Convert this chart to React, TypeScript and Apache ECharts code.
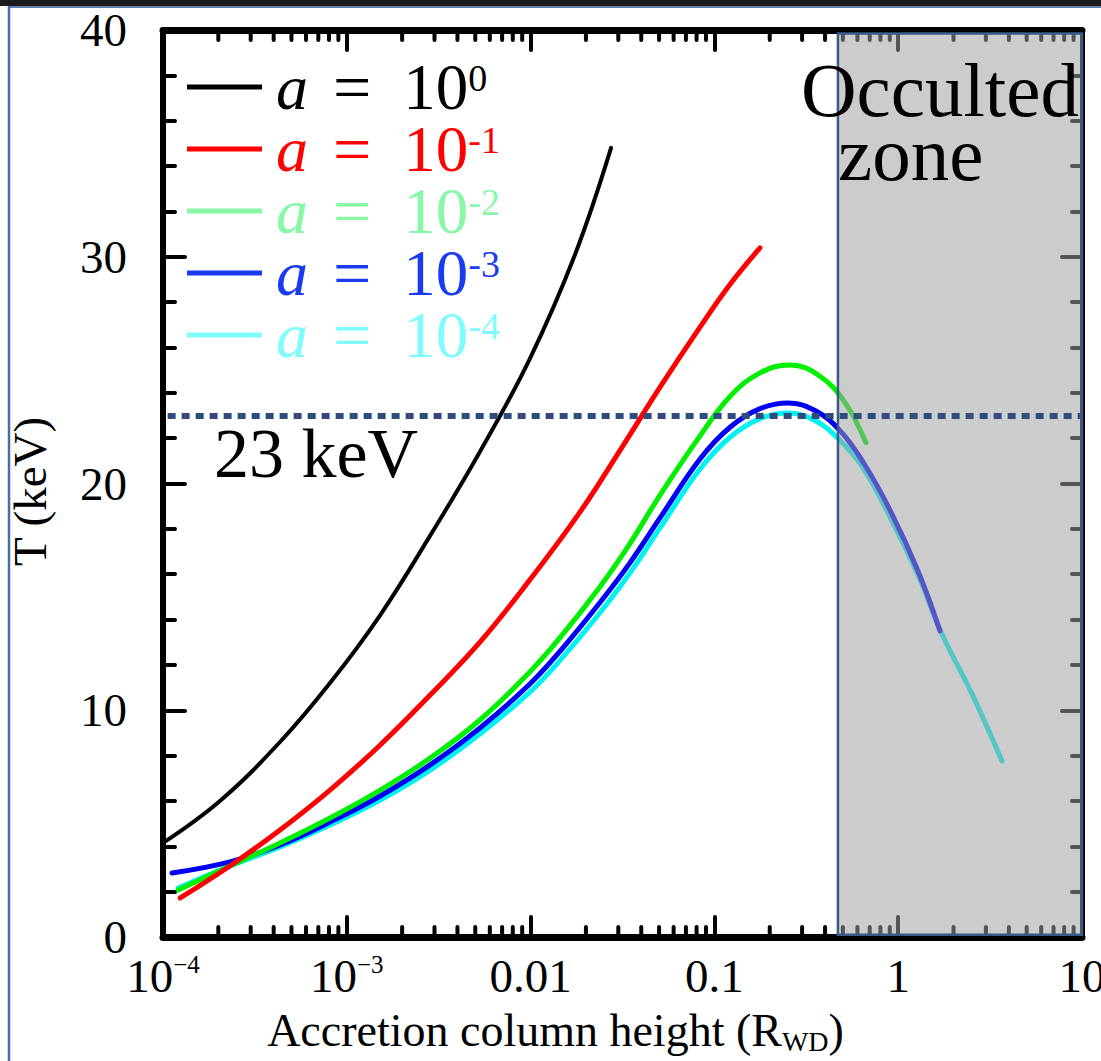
import React, { useEffect, useRef } from 'react';
import * as echarts from 'echarts';

const SERIF = "'Liberation Serif', 'Times New Roman', serif";

// Accretion column height (R_WD) and shock temperature (keV) along each curve
const heightA0 = [1e-4, 2.04e-4, 4.33e-4, 8.1e-4, 1.52e-3, 2.84e-3, 5.3e-3, 9.9e-3, 0.01745, 0.0274];
const tempA0 = [4.15, 6.0, 8.6, 11.2, 14.2, 17.7, 21.4, 25.5, 30.1, 34.8];

const heightA1 = [1.24e-4, 2.31e-4, 4.33e-4, 8.1e-4, 1.52e-3, 2.84e-3, 5.3e-3, 9.9e-3, 0.0186, 0.0306, 0.0506, 0.0835, 0.1235, 0.177];
const tempA1 = [1.72, 3.13, 4.72, 6.48, 8.47, 10.67, 13.0, 15.75, 18.75, 21.45, 24.25, 26.9, 28.85, 30.39];

const heightA2 = [1.21e-4, 2.31e-4, 4.33e-4, 8.1e-4, 1.52e-3, 2.84e-3, 5.3e-3, 9.9e-3, 0.01445, 0.02385, 0.0347, 0.0506, 0.0835, 0.1216, 0.1771, 0.2578, 0.3754, 0.5136, 0.668];
const tempA2 = [2.07, 3.13, 4.15, 5.25, 6.48, 7.89, 9.57, 11.69, 13.2, 15.45, 17.35, 19.49, 22.1, 23.84, 24.88, 25.23, 24.73, 23.57, 21.8];

const heightA3 = [1.12e-4, 2.31e-4, 4.33e-4, 8.1e-4, 1.52e-3, 2.84e-3, 5.3e-3, 9.9e-3, 0.01445, 0.02385, 0.0347, 0.0506, 0.0835, 0.1216, 0.1771, 0.2515, 0.3526, 0.4825, 0.6436, 0.9024, 1.281, 1.688];
const tempA3 = [2.82, 3.31, 4.06, 5.07, 6.22, 7.59, 9.22, 11.16, 12.6, 14.75, 16.5, 18.48, 21.08, 22.48, 23.3, 23.55, 23.22, 22.33, 20.95, 18.83, 16.14, 13.5];

const heightA4 = [1.21e-4, 2.31e-4, 4.33e-4, 8.1e-4, 1.52e-3, 2.84e-3, 5.3e-3, 9.9e-3, 0.01445, 0.02385, 0.0347, 0.0506, 0.0835, 0.1216, 0.1771, 0.2515, 0.3526, 0.4825, 0.6436, 0.9024, 1.281, 1.71, 2.52, 3.67];
const tempA4 = [2.16, 3.13, 3.97, 4.94, 6.04, 7.36, 8.95, 10.8, 12.2, 14.3, 16.05, 18.04, 20.64, 22.04, 22.86, 23.11, 22.78, 21.9, 20.7, 18.52, 15.96, 13.45, 10.72, 7.76];

const curveHeights = [heightA0, heightA1, heightA2, heightA3, heightA4];
const curveTemps = [tempA0, tempA1, tempA2, tempA3, tempA4];

const seriesNames = ['a = 10^0', 'a = 10^-1', 'a = 10^-2', 'a = 10^-3', 'a = 10^-4'];
const legendExponents = ['0', '-1', '-2', '-3', '-4'];
const legendColors = ['#000000', '#ff0000', '#88f7a6', '#1a3cf0', '#80fcfc'];
const lineColors = ['#000000', '#ff0000', '#00f000', '#0000f5', '#00f2f2'];
const lineWidths = [4, 5, 5, 5, 5];

// x tick labels, by decade exponent
const xTickExponents = [-4, -3, -2, -1, 0, 1];
const xTickLabels = ['{b|10}{s|−4}', '{b|10}{s|−3}', '{b|0.01}', '{b|0.1}', '{b|1}', '{b|10}'];

// Axis range, threshold temperature and extent of the occulted region
const xMin = 1e-4;
const xMax = 10;
const thresholdKeV = 23;
const occultedFrom = 0.47;
const occultedTo = 10;

// Log-axis minor tick positions (2..9 within each decade)
const minorTickValues: number[] = [];
for (let d = -4; d <= 0; d++) {
  for (let m = 2; m <= 9; m++) minorTickValues.push(m * Math.pow(10, d));
}

const tickStyle = { color: '#000', width: 4, cap: 'round' as const };

export default function App() {
  const ref = useRef<HTMLDivElement>(null);

  useEffect(() => {
    if (!ref.current) return;
    const chart = echarts.init(ref.current, null, { renderer: 'svg' });

    // drawn back to front: a = 10^-4 first, a = 10^0 last
    const curveSeries: any[] = [4, 3, 2, 1, 0].map((i) => ({
      name: seriesNames[i],
      type: 'line',
      xAxisIndex: 0,
      yAxisIndex: 0,
      data: curveHeights[i].map((h, k) => [h, curveTemps[i][k]]),
      smooth: 0.4,
      showSymbol: false,
      symbol: 'none',
      silent: true,
      itemStyle: { color: legendColors[i] },
      lineStyle: { color: lineColors[i], width: lineWidths[i], cap: 'round', join: 'round' },
      z: 2,
    }));

    // occulted zone overlay and the 23 keV threshold ride on the first curve
    curveSeries[0].markArea = {
      silent: true,
      z: 5,
      itemStyle: {
        color: 'rgba(159,159,159,0.533)',
        borderColor: '#3a5a8c',
        borderWidth: 2.5,
      },
      label: { show: false },
      data: [[{ xAxis: occultedFrom, yAxis: 39.85 }, { xAxis: occultedTo, yAxis: 0.1 }]],
    };
    curveSeries[0].markLine = {
      silent: true,
      z: 6,
      symbol: ['none', 'none'],
      label: { show: false },
      lineStyle: {
        color: '#2e4d7e',
        width: 6,
        type: [8, 6],
        cap: 'butt',
      },
      data: [[{ coord: [xMin * 1.06, thresholdKeV] }, { coord: [xMax * 0.975, thresholdKeV] }]],
    };

    const option: any = {
      animation: false,
      backgroundColor: '#ffffff',
      grid: { left: 163, top: 30, width: 919, height: 907, show: false, outerBoundsMode: 'none', containLabel: false },
      legend: {
        orient: 'vertical',
        left: 187,
        top: 53,
        padding: 0,
        icon: 'rect',
        itemWidth: 75,
        itemHeight: 5,
        itemGap: -6,
        selectedMode: false,
        data: seriesNames.map((n, i) => ({
          name: n,
          itemStyle: { color: legendColors[i] },
          textStyle: { color: legendColors[i] },
        })),
        formatter: (name: string) => {
          const i = seriesNames.indexOf(name);
          return `{i|a}{e|=}{t|10}{s|${legendExponents[i]}}`;
        },
        textStyle: {
          fontFamily: SERIF,
          fontSize: 64,
          lineHeight: 56,
          rich: {
            i: { fontFamily: SERIF, fontStyle: 'italic', fontSize: 64, lineHeight: 56, padding: [0, 0, 0, 9] },
            e: { fontFamily: SERIF, fontSize: 68, lineHeight: 56, padding: [0, 32, 0, 25] },
            t: { fontFamily: SERIF, fontSize: 65, lineHeight: 56 },
            s: { fontFamily: SERIF, fontSize: 38, lineHeight: 26, verticalAlign: 'top' },
          },
        },
      },
      xAxis: [
        {
          type: 'log',
          logBase: 10,
          min: xMin,
          max: xMax,
          position: 'bottom',
          name: '{n|Accretion column height (R}{sub|WD}{n|)}',
          nameLocation: 'middle',
          nameGap: 68,
          nameTextStyle: {
            padding: [0, 134, 0, 0],
            rich: {
              n: { fontFamily: SERIF, fontSize: 46, lineHeight: 50, color: '#000' },
              sub: { fontFamily: SERIF, fontSize: 28, lineHeight: 20, verticalAlign: 'bottom', color: '#000' },
            },
          },
          axisLine: { show: true, onZero: false, lineStyle: { color: '#000', width: 7 } },
          axisTick: { show: true, inside: true, length: 20, lineStyle: tickStyle },
          splitLine: { show: false },
          axisLabel: {
            margin: 15,
            showMinLabel: true,
            showMaxLabel: true,
            formatter: (v: number) => {
              const idx = xTickExponents.indexOf(Math.round(Math.log10(v)));
              return idx >= 0 ? xTickLabels[idx] : '';
            },
            rich: {
              b: { fontFamily: SERIF, fontSize: 47, lineHeight: 48, color: '#000' },
              s: { fontFamily: SERIF, fontSize: 25, lineHeight: 36, verticalAlign: 'top', color: '#000' },
            },
          },
        },
        {
          type: 'log',
          logBase: 10,
          min: xMin,
          max: xMax,
          position: 'top',
          axisLine: { show: true, onZero: false, lineStyle: { color: '#000', width: 7 } },
          axisTick: { show: true, inside: true, length: 20, lineStyle: tickStyle },
          axisLabel: { show: false },
          splitLine: { show: false },
        },
      ],
      yAxis: [
        {
          type: 'value',
          min: 0,
          max: 40,
          interval: 10,
          position: 'left',
          name: 'T (keV)',
          nameLocation: 'middle',
          nameGap: 110,
          nameTextStyle: { fontFamily: SERIF, fontSize: 47, color: '#000', padding: [0, 16, 0, 0] },
          axisLine: { show: true, onZero: false, lineStyle: { color: '#000', width: 6 } },
          axisTick: { show: true, inside: true, length: 22, lineStyle: tickStyle },
          minorTick: { show: true, splitNumber: 5, length: 12, lineStyle: tickStyle },
          splitLine: { show: false },
          axisLabel: { margin: 36, fontFamily: SERIF, fontSize: 47, color: '#000' },
        },
        {
          type: 'value',
          min: 0,
          max: 40,
          interval: 10,
          position: 'right',
          axisLine: { show: true, onZero: false, lineStyle: { color: '#000', width: 5 } },
          axisTick: { show: true, inside: true, length: 20, lineStyle: tickStyle },
          minorTick: { show: true, splitNumber: 5, length: 10, lineStyle: tickStyle },
          splitLine: { show: false },
          axisLabel: { show: false },
        },
      ],
      series: [
        {
          name: 'minor ticks',
          type: 'custom',
          xAxisIndex: 0,
          yAxisIndex: 0,
          silent: true,
          z: 1,
          data: minorTickValues.map((v) => [v, 0]),
          renderItem: (_params: any, api: any) => {
            const v = api.value(0);
            const b = api.coord([v, 0]);
            const t = api.coord([v, 40]);
            const style = { stroke: '#000', lineWidth: 4, lineCap: 'round' };
            return {
              type: 'group',
              children: [
                { type: 'line', shape: { x1: b[0], y1: b[1], x2: b[0], y2: b[1] - 10 }, style },
                { type: 'line', shape: { x1: t[0], y1: t[1], x2: t[0], y2: t[1] + 10 }, style },
              ],
            };
          },
        },
        ...curveSeries,
      ],
      graphic: [
        { type: 'rect', silent: true, shape: { x: 0, y: 0, width: 1101, height: 6 }, style: { fill: '#1c1c1c' } },
        { type: 'line', silent: true, shape: { x1: 9, y1: 7, x2: 1101, y2: 7 }, style: { stroke: '#5f7fae', lineWidth: 2 } },
        { type: 'line', silent: true, shape: { x1: 9, y1: 6, x2: 9, y2: 1061 }, style: { stroke: '#4a6ea2', lineWidth: 2.5 } },
        {
          type: 'text', silent: true, z: 100, x: 214, y: 453,
          style: { text: '23 keV', fontFamily: SERIF, fontSize: 70, fill: '#000', align: 'left', verticalAlign: 'middle' },
        },
        {
          type: 'text', silent: true, z: 100, x: 801, y: 58,
          style: {
            text: '{a|Occulted}\n{b|zone}',
            fill: '#000',
            align: 'left',
            verticalAlign: 'top',
            rich: {
              a: { fontFamily: SERIF, fontSize: 77, lineHeight: 64, fill: '#000' },
              b: { fontFamily: SERIF, fontSize: 77, lineHeight: 64, fill: '#000', padding: [0, 0, 0, 37] },
            },
          },
        },
      ],
    };

    chart.setOption(option);
    return () => chart.dispose();
  }, []);

  return (
    <div
      ref={ref}
      style={{ position: 'fixed', left: 0, top: 0, width: 1101, height: 1061, background: '#fff' }}
    />
  );
}
